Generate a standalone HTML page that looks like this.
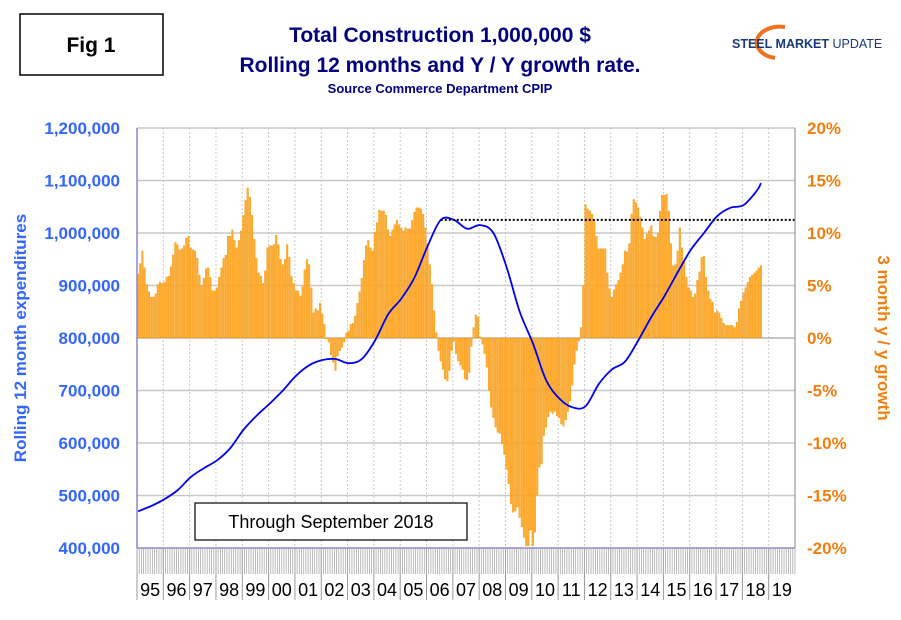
<!DOCTYPE html>
<html><head><meta charset="utf-8"><style>
body{margin:0;background:#fff;font-family:"Liberation Sans",sans-serif;}
svg{display:block}
</style></head><body>
<svg id="chart" width="901" height="620" viewBox="0 0 901 620">
<rect x="20" y="14" width="143" height="61" fill="#fff" stroke="#000" stroke-width="1.5"/>
<text x="91" y="52" font-size="21" font-weight="bold" text-anchor="middle">Fig 1</text>
<text x="440" y="42" font-size="21" font-weight="bold" fill="#000080" text-anchor="middle">Total Construction 1,000,000 $</text>
<text x="440" y="72" font-size="21" font-weight="bold" fill="#000080" text-anchor="middle">Rolling 12 months and Y / Y growth rate.</text>
<text x="440" y="93" font-size="13" font-weight="bold" fill="#000080" text-anchor="middle">Source Commerce Department CPIP</text>
<g>
<path d="M785 27 A22 15 0 1 0 775 58" fill="none" stroke="#f07020" stroke-width="4"/>
<text x="732" y="48" font-size="12.5" font-weight="bold" fill="#1a3a7a">STEEL MARKET <tspan font-weight="normal">UPDATE</tspan></text>
</g>
<g id="grid"></g><g id="bars"></g><g id="line"></g><g id="axes"></g>
<rect x="195" y="503" width="272" height="37" fill="#fff" stroke="#000" stroke-width="1.2"/>
<text x="331" y="528" font-size="18" text-anchor="middle">Through September 2018</text>
<text transform="translate(26,338) rotate(-90)" font-size="17" font-weight="bold" fill="#3366ff" text-anchor="middle">Rolling 12 month expenditures</text>
<text transform="translate(878,338) rotate(90)" font-size="17" font-weight="bold" fill="#f07f0f" text-anchor="middle">3 month y / y growth</text>
</svg>
<script>
const years=["95","96","97","98","99","00","01","02","03","04","05","06","07","08","09","10","11","12","13","14","15","16","17","18","19"];
const leftTicks=[400000,500000,600000,700000,800000,900000,1000000,1100000,1200000];
const rightTicks=[-20,-15,-10,-5,0,5,10,15,20];
const growth=[
6.1,7.1,8.3,6.7,5.1,4.4,3.9,3.9,4.2,5.1,5.3,5.2,
5.3,5.8,5.9,6.8,7.9,9.1,8.9,8.4,8.5,8.8,9.5,9.7,
8.6,8.4,8.3,7.6,6.0,5.0,5.7,6.6,6.7,5.8,4.5,4.5,
4.8,5.8,6.7,7.6,7.9,9.7,9.7,10.3,9.3,8.6,9.3,10.2,
11.7,13.1,14.3,13.4,11.7,9.4,7.6,6.2,5.9,5.2,6.4,8.6,
8.8,8.8,8.9,9.8,8.9,7.5,7.0,7.5,8.9,7.7,5.9,5.2,
4.5,4.5,4.0,4.9,6.5,7.5,7.0,4.8,2.4,2.8,2.6,3.3,
2.3,1.3,-0.1,-0.4,-1.6,-2.3,-3.1,-1.7,-1.2,-0.9,-0.4,0.5,
0.7,1.3,1.4,2.1,3.3,4.4,5.7,7.4,8.8,9.3,8.6,8.3,
10.1,11.0,12.2,12.1,12.1,11.7,10.3,9.7,10.3,10.8,11.2,10.8,
10.5,10.2,10.5,10.4,10.4,11.2,12.0,12.4,12.4,12.3,11.8,10.5,
9.0,7.0,5.1,2.6,0.5,-1.2,-2.2,-3.0,-3.9,-4.1,-3.1,-1.2,
-0.3,-1.5,-2.2,-2.6,-3.0,-3.9,-4.0,-3.3,-0.8,1.0,2.2,2.0,
0.1,-0.6,-1.5,-2.8,-5.0,-6.6,-7.6,-8.5,-9.0,-9.1,-10.1,-11.1,
-12.5,-13.9,-15.8,-16.6,-16.5,-16.1,-17.1,-18.0,-19.0,-19.8,-19.8,-18.3,
-19.8,-18.5,-15.0,-12.3,-12.0,-9.3,-8.5,-7.5,-7.0,-7.2,-7.0,-7.4,
-7.6,-8.2,-8.4,-7.8,-7.0,-6.0,-4.5,-2.5,-1.2,-0.3,1.0,5.0,
12.7,12.3,12.1,11.8,11.2,9.7,8.5,8.5,8.5,8.5,6.2,4.7,
3.9,4.6,5.1,5.5,6.2,7.0,8.3,8.2,9.0,11.8,13.2,12.9,
12.4,11.5,10.5,9.4,9.9,10.2,10.7,9.7,9.6,10.0,12.1,13.6,
13.6,13.7,12.1,9.0,6.9,7.0,8.3,10.5,8.6,7.4,5.8,4.8,
4.5,3.9,4.2,5.5,6.3,7.7,7.8,5.8,4.5,3.7,3.4,2.4,
2.6,2.4,1.9,1.4,1.2,1.2,1.2,1.2,1.0,1.5,2.8,3.5,
4.3,4.8,5.3,5.8,6.0,6.2,6.4,6.7,6.9];
const lineMonths=[0,6,12,18,24,30,36,42,48,54,60,66,72,78,84,90,96,102,108,114,120,126,132,138,144,150,156,162,168,174,180,186,192,198,204,210,216,222,228,234,240,246,252,258,264,270,276,282,284];
const lineValues=[470000,480000,493000,510000,535000,552000,567000,590000,625000,652000,675000,700000,728000,748000,758000,760000,752000,760000,795000,845000,875000,915000,975000,1025000,1025000,1008000,1015000,1000000,935000,850000,790000,720000,685000,668000,670000,712000,740000,755000,795000,840000,880000,925000,968000,1000000,1032000,1048000,1053000,1080000,1095000];
const peakLevel=1025000;

const NS="http://www.w3.org/2000/svg";
const X0=137,X1=795,Y0=548,Y1=128,MW=(X1-X0)/300;
const xM=m=>X0+(m+0.5)*MW;
const yL=v=>Y0-(v-400000)/800000*(Y0-Y1);
const yR=p=>Y0-(p+20)/40*(Y0-Y1);
function mk(tag,attrs,parent){const e=document.createElementNS(NS,tag);for(const k in attrs)e.setAttribute(k,attrs[k]);parent.appendChild(e);return e;}
const grid=document.getElementById('grid'),bars=document.getElementById('bars'),line=document.getElementById('line'),axes=document.getElementById('axes');
leftTicks.forEach((t,i)=>{
 const y=yL(t);
 const g=mk('line',{x1:X0,x2:X1,y1:y,y2:y,stroke:'#c8c8c8','stroke-width':1.5},grid);
 
 
 const tl=mk('text',{x:120,y:y+6,'font-size':17,'font-weight':'bold',fill:'#3366ff','text-anchor':'end'},axes);
 tl.textContent=t.toLocaleString('en-US');
 
 
});
rightTicks.forEach(p=>{
 const y=yR(p);
 const tl=mk('text',{x:807,y:y+6,'font-size':17,'font-weight':'bold',fill:'#f07f0f'},axes);
 tl.textContent=p+'%';
 
 
});
years.forEach((yr,i)=>{
 const x=X0+i*12*MW;
 if(i>0){const v=mk('line',{x1:x,x2:x,y1:Y1,y2:Y0,stroke:'#c8c8c8','stroke-dasharray':'2,2'},grid);
 
 }
 const s=mk('line',{x1:x,x2:x,y1:Y0,y2:600,stroke:'#999'},axes);
 
 
 const tl=mk('text',{x:x+6*MW,y:596,'font-size':18,'text-anchor':'middle'},axes);
 tl.textContent=yr;
 
 
});
for(let m=0;m<=300;m++){const x=X0+m*MW;const t=mk('line',{x1:x,x2:x,y1:Y0,y2:574,stroke:'#aaa','stroke-width':0.8},axes);
 
 }
growth.forEach((p,m)=>{
 const y0=yR(0),y=yR(p);
 const r=mk('rect',{x:X0+m*MW+0.2,width:MW-0.5,y:Math.min(y,y0),height:Math.abs(y-y0),fill:'#ffab33',stroke:'#f59400','stroke-width':0.3},bars);
 
 
});
const zl=mk('line',{x1:X0,x2:X1,y1:yR(0),y2:yR(0),stroke:'#aaa'},grid);


const P=lineMonths.map((m,i)=>[xM(m),yL(lineValues[i])]);
let d='M'+P[0][0]+','+P[0][1];
for(let i=0;i<P.length-1;i++){
 const p0=P[Math.max(0,i-1)],p1=P[i],p2=P[i+1],p3=P[Math.min(P.length-1,i+2)];
 const c1=[p1[0]+(p2[0]-p0[0])/6,p1[1]+(p2[1]-p0[1])/6];
 const c2=[p2[0]-(p3[0]-p1[0])/6,p2[1]-(p3[1]-p1[1])/6];
 d+=' C'+c1[0]+','+c1[1]+' '+c2[0]+','+c2[1]+' '+p2[0]+','+p2[1];
}
const pl=mk('path',{d:d,fill:'none',stroke:'#0000ee','stroke-width':1.8,'stroke-linejoin':'round'},line);


const pk=mk('line',{x1:xM(138),x2:X1,y1:yL(peakLevel),y2:yL(peakLevel),stroke:'#000','stroke-width':2,'stroke-dasharray':'2,2'},line);


const la=mk('line',{x1:X0,x2:X0,y1:Y1,y2:Y0,stroke:'#8888cc','stroke-width':1.5},axes);


const ra=mk('line',{x1:X1,x2:X1,y1:Y1,y2:Y0,stroke:'#999','stroke-width':1.2},axes);


const ba=mk('line',{x1:X0,x2:X1,y1:Y0,y2:Y0,stroke:'#8888cc','stroke-width':1.2},axes);


</script>
</body></html>
